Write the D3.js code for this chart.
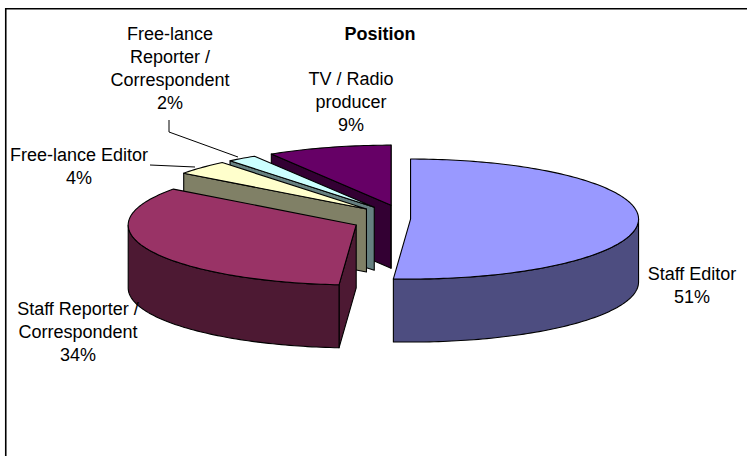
<!DOCTYPE html>
<html><head><meta charset="utf-8">
<script src="https://cdn.jsdelivr.net/npm/d3@7"></script>
<style>html,body{margin:0;padding:0;background:#fff}svg{display:block}
text{font-family:"Liberation Sans",Arial,sans-serif;font-size:18px;fill:#000}</style>
</head><body><svg id="c" width="747" height="456"></svg>
<script>
const categories=["Staff Editor","Staff Reporter / Correspondent","Free-lance Editor","Free-lance Reporter / Correspondent","TV / Radio producer"];
const values=[51.2,34.0,3.9,2.1,8.8];
const explode=[0.02,0.24,0.24,0.24,0.24];
const topColors=["#9999FF","#993366","#FFFFCC","#CCFFFF","#660066"];
const sideColors=["#4D4D80","#4D1933","#808066","#668080","#330033"];
const labelLines=[["Staff Editor","51%"],["Staff Reporter /","Correspondent","34%"],["Free-lance Editor","4%"],["Free-lance","Reporter /","Correspondent","2%"],["TV / Radio","producer","9%"]];
const labelAnchors=[[692,280],[78,315],[79,161],[170,40],[351,85]];
const leaders=[null,null,[[150,165],[195,167]],[[169,120],[169,132],[238,157]],null];

const W=747,H=456,cx=406,cy=219,rx=228,ry=60,depth=63,lh=23;
const svg=d3.select("#c");
const line=d3.line();
svg.append("path").attr("d",line([[5.75,H],[5.75,8.75],[W,8.75]])).attr("fill","none").attr("stroke","#000").attr("stroke-width",1.6);

const px=d3.scaleLinear().domain([-1,1]).range([cx-rx,cx+rx]);
const py=d3.scaleLinear().domain([-1,1]).range([cy+ry,cy-ry]);
const arcs=d3.pie().sort(null).startAngle(0).endAngle(2*Math.PI)(values);

function pt(d,a,r,dz){
  const m=(d.startAngle+d.endAngle)/2,e=explode[d.index];
  return [px(e*Math.sin(m)+r*Math.sin(a)),py(e*Math.cos(m)+r*Math.cos(a))+dz];
}
function samples(a0,a1){const n=Math.max(2,Math.ceil((a1-a0)/0.02));return d3.range(n+1).map(i=>a0+(a1-a0)*i/n);}

const g=svg.append("g").attr("stroke","#000").attr("stroke-width",1.1).attr("stroke-linejoin","round");
const order=[4,3,2,1,0];
order.forEach(i=>{
  const d=arcs[i],s=d.startAngle,t=d.endAngle;
  const wall=a=>line([pt(d,a,0,0),pt(d,a,1,0),pt(d,a,1,depth),pt(d,a,0,depth)])+"Z";
  if(Math.sin(s)<0) g.append("path").attr("d",wall(s)).attr("fill",sideColors[i]);
  if(Math.sin(t)>0) g.append("path").attr("d",wall(t)).attr("fill",sideColors[i]);
  const a0=Math.max(s,Math.PI/2),a1=Math.min(t,3*Math.PI/2);
  if(a1>a0){
    const as=samples(a0,a1);
    const pts=as.map(a=>pt(d,a,1,0)).concat(as.slice().reverse().map(a=>pt(d,a,1,depth)));
    g.append("path").attr("d",line(pts)+"Z").attr("fill",sideColors[i]);
  }
  const top=[pt(d,s,0,0)].concat(samples(s,t).map(a=>pt(d,a,1,0)));
  g.append("path").attr("d",line(top)+"Z").attr("fill",topColors[i]);
});

leaders.forEach(l=>{if(l)svg.append("path").attr("d",line(l)).attr("fill","none").attr("stroke","#000").attr("stroke-width",1);});

labelLines.forEach((ls,i)=>{
  const t=svg.append("text").attr("text-anchor","middle");
  ls.forEach((s,j)=>t.append("tspan").attr("x",labelAnchors[i][0]).attr("y",labelAnchors[i][1]+j*lh).text(s));
});
svg.append("text").attr("x",380).attr("y",40).attr("text-anchor","middle").attr("font-weight","bold").text("Position");
</script></body></html>
